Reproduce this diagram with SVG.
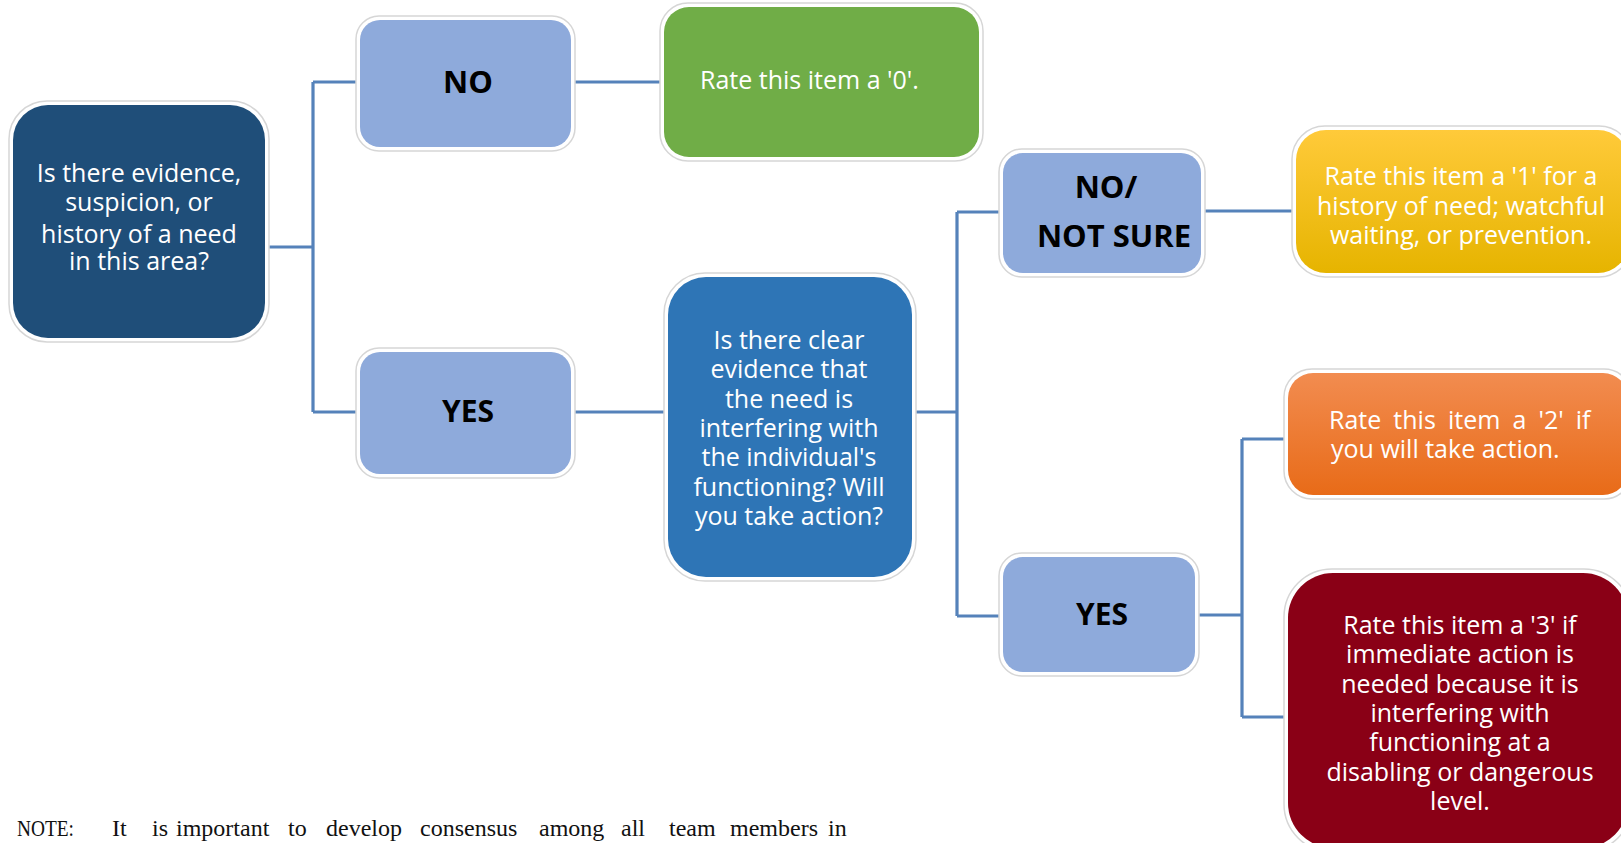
<svg xmlns="http://www.w3.org/2000/svg" width="1621" height="843" viewBox="0 0 1621 843">
<defs>
<linearGradient id="gYellow" x1="0" y1="0" x2="0" y2="1">
<stop offset="0" stop-color="#ffca3a"/>
<stop offset="1" stop-color="#e6b400"/>
</linearGradient>
<linearGradient id="gOrange" x1="0" y1="0" x2="0" y2="1">
<stop offset="0" stop-color="#f28c50"/>
<stop offset="1" stop-color="#e86b18"/>
</linearGradient>
<style>
.halo{fill:#ffffff;stroke:#d6d6d6;stroke-width:1.5}
.ans{fill:#8eaadb}
.t{font-family:"Open Sans","Noto Sans",sans-serif;font-size:25px;fill:#ffffff}
.c{text-anchor:middle}
.b{font-family:"Open Sans","Noto Sans",sans-serif;font-weight:bold;fill:#000000;text-anchor:middle}
.conn{fill:none;stroke:#5582ba;stroke-width:3.2;stroke-linecap:butt}
.note{font-family:"Liberation Serif","Times New Roman",serif;font-size:24px;fill:#111111}
</style>
</defs>
<rect width="1621" height="843" fill="#ffffff"/>

<g id="connectors">
<path class="conn" d="M268 247H313M313 82V412M313 82H360M313 412H360"/>
<path class="conn" d="M571 82H664M571 412H668"/>
<path class="conn" d="M912 412H957M957 212V616M957 212H1003M957 616H1003"/>
<path class="conn" d="M1201 211H1296"/>
<path class="conn" d="M1195 615H1242M1242 439V717M1242 439H1288M1242 717H1288"/>
</g>

<g id="q1">
<rect class="halo" x="9" y="101" width="260" height="241" rx="38"/>
<rect x="13" y="105" width="252" height="233" rx="35" fill="#1f4e79"/>
<text class="t c" x="139" y="182">Is there evidence,</text>
<text class="t c" x="139" y="211">suspicion, or</text>
<text class="t c" x="139" y="243">history of a need</text>
<text class="t c" x="139" y="270">in this area?</text>
</g>

<g id="no1">
<rect class="halo" x="356" y="16" width="219" height="135" rx="23"/>
<rect class="ans" x="360" y="20" width="211" height="127" rx="20"/>
<text class="b" x="468" y="93" font-size="31">NO</text>
</g>

<g id="r0">
<rect class="halo" x="660" y="3" width="323" height="158" rx="28"/>
<rect x="664" y="7" width="315" height="150" rx="25" fill="#70ad47"/>
<text class="t" x="700" y="89">Rate this item a '0'.</text>
</g>

<g id="yes1">
<rect class="halo" x="356" y="348" width="219" height="130" rx="23"/>
<rect class="ans" x="360" y="352" width="211" height="122" rx="20"/>
<text class="b" x="468" y="422" font-size="30">YES</text>
</g>

<g id="q2">
<rect class="halo" x="664" y="273" width="252" height="308" rx="41"/>
<rect x="668" y="277" width="244" height="300" rx="38" fill="#2e75b6"/>
<text class="t c" x="789" y="349">Is there clear</text>
<text class="t c" x="789" y="378">evidence that</text>
<text class="t c" x="789" y="408">the need is</text>
<text class="t c" x="789" y="437">interfering with</text>
<text class="t c" x="789" y="466">the individual's</text>
<text class="t c" x="789" y="496">functioning? Will</text>
<text class="t c" x="789" y="525">you take action?</text>
</g>

<g id="nosure">
<rect class="halo" x="999" y="149" width="206" height="128" rx="23"/>
<rect class="ans" x="1003" y="153" width="198" height="120" rx="20"/>
<text class="b" x="1106" y="198" font-size="31">NO/</text>
<text class="b" x="1114" y="247" font-size="31">NOT SURE</text>
</g>

<g id="r1">
<rect class="halo" x="1292" y="126" width="340" height="151" rx="33"/>
<rect x="1296" y="130" width="332" height="143" rx="30" fill="url(#gYellow)"/>
<text class="t c" x="1461" y="185">Rate this item a '1' for a</text>
<text class="t c" x="1461" y="215">history of need; watchful</text>
<text class="t c" x="1461" y="244">waiting, or prevention.</text>
</g>

<g id="yes2">
<rect class="halo" x="999" y="553" width="200" height="123" rx="23"/>
<rect class="ans" x="1003" y="557" width="192" height="115" rx="20"/>
<text class="b" x="1102" y="625" font-size="30">YES</text>
</g>

<g id="r2">
<rect class="halo" x="1284" y="369" width="348" height="130" rx="28"/>
<rect x="1288" y="373" width="340" height="122" rx="25" fill="url(#gOrange)"/>
<text class="t" x="1329" y="429" word-spacing="5.6">Rate this item a '2' if</text>
<text class="t" x="1331" y="458">you will take action.</text>
</g>

<g id="r3">
<rect class="halo" x="1284" y="569" width="348" height="283" rx="48"/>
<rect x="1288" y="573" width="340" height="275" rx="45" fill="#8a0016"/>
<text class="t c" x="1460" y="634">Rate this item a '3' if</text>
<text class="t c" x="1460" y="663">immediate action is</text>
<text class="t c" x="1460" y="693">needed because it is</text>
<text class="t c" x="1460" y="722">interfering with</text>
<text class="t c" x="1460" y="751">functioning at a</text>
<text class="t c" x="1460" y="781">disabling or dangerous</text>
<text class="t c" x="1460" y="810">level.</text>
</g>

<g id="note">
<text class="note" x="17" y="836" textLength="57" lengthAdjust="spacingAndGlyphs">NOTE:</text>
<text class="note" y="836"><tspan x="112">It</tspan><tspan x="152">is</tspan><tspan x="176">important</tspan><tspan x="288">to</tspan><tspan x="326">develop</tspan><tspan x="420">consensus</tspan><tspan x="539">among</tspan><tspan x="621">all</tspan><tspan x="669">team</tspan><tspan x="730">members</tspan><tspan x="828">in</tspan></text>
</g>
</svg>
